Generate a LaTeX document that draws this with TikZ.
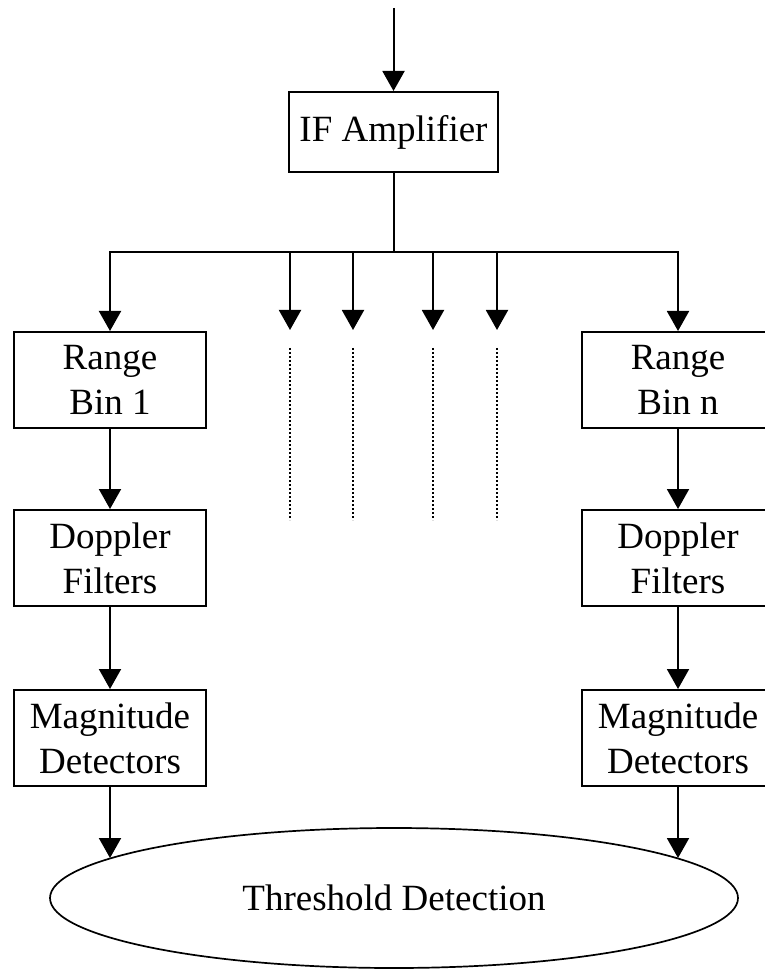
\documentclass[tikz,border=0pt]{standalone}
\usepackage{fontspec}
\setmainfont{Liberation Serif}
\usepackage{tikz}
\usetikzlibrary{positioning}
\usetikzlibrary{arrows.meta, shapes.geometric}

\begin{document}
\begin{tikzpicture}[x=0.5pt, y=-0.5pt,
		block/.style={
			draw,
			line width=1pt,
			minimum width=96pt,
			minimum height=48pt,
			align=center,
			inner sep=0pt,
		},
		arr/.style={line width=1pt, -{Triangle[length=10pt, width=11pt]}},
		dots/.style={line width=1.4pt, dash pattern=on 1.2pt off 0.8pt},
		every node/.style={font=\fontsize{18.5}{22.5}\selectfont}]
		\useasboundingbox (0,0) rectangle (764,972);
		
		\node[block, minimum width=104.5pt, minimum height=40pt] (ifamp) at (393.5,132) {IF Amplifier};
		\coordinate (input) at (393.5,8);
		\coordinate (split) at (393.5,252);
		\draw[arr] (input) -- (ifamp);
		\draw[line width=1pt] (ifamp) -- (split);
		
		\node[block] (rb1) at (110,380) {Range\\Bin 1};
		\node[block, below=40pt of rb1] (df1) {Doppler\\Filters};
		\node[block, below=41pt of df1] (md1) {Magnitude\\Detectors};
		
		\node[block] (rbn) at (678,380) {Range\\Bin n};
		\node[block, below=40pt of rbn] (dfn) {Doppler\\Filters};
		\node[block, below=41pt of dfn] (mdn) {Magnitude\\Detectors};
		
		\node[draw, ellipse, line width=0.85pt, minimum width=344pt, minimum height=70pt, inner sep=0pt] (thresh) at (394,898) {Threshold Detection};
		\coordinate (tl) at (110,858);
		\coordinate (tr) at (678,858);
		
		\draw[arr] (split) -| (rb1);
		\draw[arr] (split) -| (rbn);
		\draw[arr] (rb1) -- (df1);
		\draw[arr] (df1) -- (md1);
		\draw[arr] (md1) -- (tl);
		\draw[arr] (rbn) -- (dfn);
		\draw[arr] (dfn) -- (mdn);
		\draw[arr] (mdn) -- (tr);
		
		% the bins in between
		\foreach \x [count=\i] in {290,353,433,497}{
			\coordinate (top\i) at (\x,252);
			\coordinate (tip\i) at (\x,330);
			\coordinate (ds\i) at (\x,348);
			\coordinate (de\i) at (\x,520);
			\draw[arr] (top\i) -- (tip\i);
			\draw[dots] (ds\i) -- (de\i);
		}
	\end{tikzpicture}
\end{document}
